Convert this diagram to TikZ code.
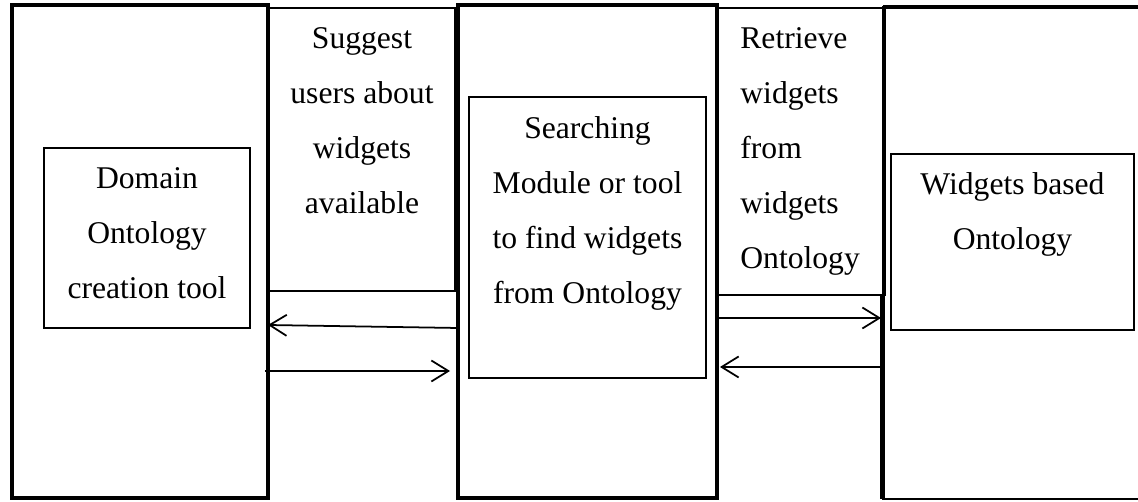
\documentclass[tikz,border=0pt]{standalone}
\usepackage{fontspec}
\setmainfont{Liberation Serif}
\usetikzlibrary{positioning, arrows.meta}

\tikzset{
  outbox/.style={shape=rectangle, draw=black, line width=2.3pt, inner sep=0pt, outer sep=0pt},
  lblbox/.style={shape=rectangle, draw=black, line width=0.75pt, inner sep=0pt, outer sep=0pt},
  inbox/.style={shape=rectangle, draw=black, line width=0.85pt, inner sep=0pt, outer sep=0pt},
  txt/.style={inner sep=0pt, align=center, font=\fontsize{18}{31.3}\selectfont},
  flow/.style={line width=1pt, -{Straight Barb[length=0.34cm, width=0.42cm]}}
}

\begin{document}
\begin{tikzpicture}[x=0.02cm, y=-0.02cm]
\useasboundingbox (0,0) rectangle (1138,501);
%label boxes between the columns
\node[lblbox, minimum width=3.72cm, minimum height=5.66cm] (sug) at (362,149.5) {};
\node[lblbox, minimum width=3.36cm, minimum height=5.74cm] (ret) at (801,151.5) {};
%columns
\node[outbox, minimum width=5.12cm, minimum height=9.86cm] (dombox) at (140,251.5) {};
\node[outbox, minimum width=5.18cm, minimum height=9.86cm] (srchbox) at (587.5,251.5) {};
\node[lblbox, minimum width=5.24cm, minimum height=9.84cm] (widbox) at (1014,253) {};
\draw[line width=2.3pt] (widbox.north west) -- (widbox.north east);
\draw[line width=2.3pt] ([xshift=-0.05cm]ret.south east) -- ([xshift=-0.05cm]ret.south east |- widbox.south);
%inner boxes
\node[inbox, minimum width=4.12cm, minimum height=3.6cm] (dom) at (147,238) {};
\node[inbox, minimum width=4.74cm, minimum height=5.62cm] (srch) at (587.5,237.5) {};
\node[inbox, minimum width=4.86cm, minimum height=3.52cm] (wid) at (1012.5,242) {};
%texts
\node[txt, below=0.38cm of dom.north] (domtxt) {Domain\\Ontology\\creation tool};
\node[txt, below=0.38cm of srch.north] (srchtxt) {Searching\\Module or tool\\to find widgets\\from Ontology};
\node[txt, below=0.36cm of wid.north] (widtxt) {Widgets based\\Ontology};
\node[txt, below=0.38cm of sug.north] (sugtxt) {Suggest\\users about\\widgets\\available};
\node[txt, align=left, below right=0.38cm and 0.46cm of ret.north west] (rettxt) {Retrieve\\widgets\\from\\widgets\\Ontology};
%arrows
\draw[flow] ([yshift=-1.53cm]srchbox.west) -- ([yshift=-1.47cm]dombox.east);
\draw[flow] ([xshift=-0.06cm, yshift=-2.39cm]dombox.east) -- ([xshift=-0.16cm, yshift=-2.39cm]srchbox.west);
\draw[flow] ([yshift=-1.33cm]srchbox.east) -- ([xshift=-0.04cm, yshift=-1.30cm]widbox.west);
\draw[flow] ([yshift=-2.28cm]widbox.west) -- ([xshift=0.06cm, yshift=-2.31cm]srchbox.east);
\end{tikzpicture}
\end{document}
